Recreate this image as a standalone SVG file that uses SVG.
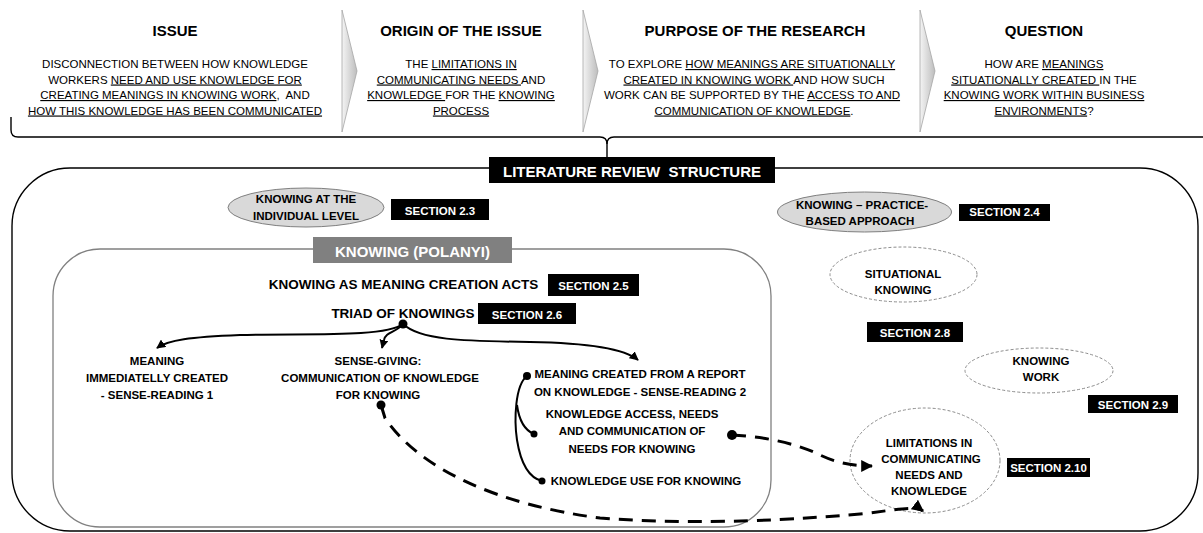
<svg xmlns="http://www.w3.org/2000/svg" width="1203" height="533" viewBox="0 0 1203 533">
  <style>
    text { font-family: "Liberation Sans", Arial, sans-serif; fill: #000; }
    .h { font-size: 15px; font-weight: bold; text-anchor: middle; }
    .b { font-size: 11.5px; text-anchor: middle; }
    .lbl { font-size: 11.5px; font-weight: bold; text-anchor: middle; }
    .big { font-size: 13.5px; font-weight: bold; text-anchor: middle; }
    .w { fill: #fff; }
    .u { text-decoration: underline; }
    .sec { fill: #000; }
    .chev { fill: url(#chevFill); stroke: #a6a6a6; stroke-width: 0.8; }
    .oval { fill: #d9d9d9; stroke: #7f7f7f; stroke-width: 1; }
    .doval { fill: none; stroke: #8c8c8c; stroke-width: 1; stroke-dasharray: 3 2; }
    .link { fill: none; stroke: #000; stroke-width: 2; }
    .dash { fill: none; stroke: #000; stroke-width: 3; stroke-dasharray: 14 9; }
    .dot { fill: #000; }
  </style>
  <defs>
    <linearGradient id="chevFill" x1="0" y1="0" x2="1" y2="0">
      <stop offset="0" stop-color="#f4f4f4"/>
      <stop offset="1" stop-color="#bdbdbd"/>
    </linearGradient>
    <marker id="arrS" viewBox="0 0 10 10" refX="9" refY="5" markerWidth="9" markerHeight="9" markerUnits="userSpaceOnUse" orient="auto">
      <path d="M0,0 L10,5 L0,10 z" fill="#000"/>
    </marker>
    <marker id="arrD" viewBox="0 0 10 10" refX="9" refY="5" markerWidth="12" markerHeight="12" markerUnits="userSpaceOnUse" orient="auto">
      <path d="M0,0 L10,5 L0,10 z" fill="#000"/>
    </marker>
  </defs>

  <rect width="1203" height="533" fill="#fff"/>

  <!-- header chevrons -->
  <g id="chevrons">
    <polygon class="chev" points="342,10 357,71 342,132"/>
    <polygon class="chev" points="583,10 598,71 583,132"/>
    <polygon class="chev" points="920,10 935,71 920,132"/>
  </g>

  <!-- header columns -->
  <g id="issue">
    <text class="h" x="175" y="36">ISSUE</text>
    <text class="b" x="175" y="68">DISCONNECTION BETWEEN HOW KNOWLEDGE</text>
    <text class="b" x="175" y="83.5">WORKERS <tspan class="u">NEED AND USE KNOWLEDGE FOR</tspan></text>
    <text class="b" x="175" y="99" xml:space="preserve"><tspan class="u">CREATING MEANINGS IN KNOWING WORK</tspan>,  AND</text>
    <text class="b" x="175" y="114.5"><tspan class="u">HOW THIS KNOWLEDGE HAS BEEN COMMUNICATED</tspan></text>
  </g>
  <g id="origin">
    <text class="h" x="461" y="36">ORIGIN OF THE ISSUE</text>
    <text class="b" x="461" y="68">THE <tspan class="u">LIMITATIONS IN</tspan></text>
    <text class="b" x="461" y="83.5"><tspan class="u">COMMUNICATING NEEDS </tspan>AND</text>
    <text class="b" x="461" y="99"><tspan class="u">KNOWLEDGE </tspan>FOR THE <tspan class="u">KNOWING</tspan></text>
    <text class="b" x="461" y="114.5"><tspan class="u">PROCESS</tspan></text>
  </g>
  <g id="purpose">
    <text class="h" x="755" y="36">PURPOSE OF THE RESEARCH</text>
    <text class="b" x="752" y="68">TO EXPLORE <tspan class="u">HOW MEANINGS ARE SITUATIONALLY</tspan></text>
    <text class="b" x="754" y="83.5"><tspan class="u">CREATED IN KNOWING WORK </tspan>AND HOW SUCH</text>
    <text class="b" x="752" y="99">WORK CAN BE SUPPORTED BY THE <tspan class="u">ACCESS TO AND</tspan></text>
    <text class="b" x="754" y="114.5"><tspan class="u">COMMUNICATION OF KNOWLEDGE</tspan>.</text>
  </g>
  <g id="question">
    <text class="h" x="1044" y="36">QUESTION</text>
    <text class="b" x="1044" y="68">HOW ARE <tspan class="u">MEANINGS</tspan></text>
    <text class="b" x="1044" y="83.5"><tspan class="u">SITUATIONALLY CREATED </tspan>IN THE</text>
    <text class="b" x="1044" y="99"><tspan class="u">KNOWING WORK WITHIN BUSINESS</tspan></text>
    <text class="b" x="1044" y="114.5"><tspan class="u">ENVIRONMENTS</tspan>?</text>
  </g>

  <!-- brace joining the header to the review structure -->
  <g id="brace" fill="none" stroke="#000" stroke-width="1.4">
    <path d="M11,117 L11,130 Q11,137 18,137 L600,137 Q607,137 607,144 L607,157"/>
    <path d="M1203,137 L614,137 Q607,137 607,144"/>
  </g>

  <!-- outer frame of the review structure -->
  <g id="review">
    <rect x="12" y="168" width="1186" height="363" rx="58" ry="58" fill="none" stroke="#000" stroke-width="1.4"/>
    <rect x="489" y="157" width="286" height="26" fill="#000"/>
    <text class="h w" x="632" y="177" xml:space="preserve">LITERATURE REVIEW  STRUCTURE</text>
  </g>

  <!-- Polanyi frame -->
  <g id="polanyi">
    <rect x="53" y="249" width="718" height="278" rx="47" ry="47" fill="none" stroke="#808080" stroke-width="1.3"/>
    <rect x="313" y="237" width="199" height="26" fill="#808080"/>
    <text class="h w" x="412.5" y="257">KNOWING (POLANYI)</text>
  </g>

  <g id="individual">
    <ellipse class="oval" cx="306" cy="207.5" rx="78" ry="19.5"/>
    <text class="lbl" x="306" y="203">KNOWING AT THE</text>
    <text class="lbl" x="306" y="220">INDIVIDUAL LEVEL</text>
  </g>
  <g id="sec23">
    <rect class="sec" x="391" y="199" width="98" height="21"/>
    <text class="lbl w" x="440" y="215">SECTION 2.3</text>
  </g>

  <g id="practice">
    <ellipse class="oval" cx="864.5" cy="212" rx="87" ry="20"/>
    <text class="lbl" x="862" y="209">KNOWING – PRACTICE-</text>
    <text class="lbl" x="860" y="225">BASED APPROACH</text>
  </g>
  <g id="sec24">
    <rect class="sec" x="959" y="204" width="91" height="17"/>
    <text class="lbl w" x="1004.5" y="216">SECTION 2.4</text>
  </g>

  <g id="meaningActs">
    <text class="big" x="403.5" y="289">KNOWING AS MEANING CREATION ACTS</text>
  </g>
  <g id="sec25">
    <rect class="sec" x="548" y="274" width="91" height="22"/>
    <text class="lbl w" x="593.5" y="289.5">SECTION 2.5</text>
  </g>

  <g id="triad">
    <text class="big" x="403" y="318">TRIAD OF KNOWINGS</text>
  </g>
  <g id="sec26">
    <rect class="sec" x="478" y="303" width="98" height="21"/>
    <text class="lbl w" x="527" y="318.5">SECTION 2.6</text>
  </g>

  <g id="senseReading1">
    <text class="lbl" x="157" y="365">MEANING</text>
    <text class="lbl" x="157" y="382">IMMEDIATELLY CREATED</text>
    <text class="lbl" x="157" y="399">- SENSE-READING 1</text>
  </g>
  <g id="senseGiving">
    <text class="lbl" x="378" y="365">SENSE-GIVING:</text>
    <text class="lbl" x="380" y="382">COMMUNICATION OF KNOWLEDGE</text>
    <text class="lbl" x="378" y="399">FOR KNOWING</text>
  </g>
  <g id="senseReading2">
    <text class="lbl" x="640" y="378">MEANING CREATED FROM A REPORT</text>
    <text class="lbl" x="640" y="395.5">ON KNOWLEDGE - SENSE-READING 2</text>
  </g>
  <g id="accessNeeds">
    <text class="lbl" x="632" y="418">KNOWLEDGE ACCESS, NEEDS</text>
    <text class="lbl" x="632" y="435">AND COMMUNICATION OF</text>
    <text class="lbl" x="632" y="453">NEEDS FOR KNOWING</text>
  </g>
  <g id="knowledgeUse">
    <text class="lbl" x="646" y="485">KNOWLEDGE USE FOR KNOWING</text>
  </g>

  <g id="situational">
    <ellipse class="doval" cx="903.5" cy="274.5" rx="73.5" ry="27.5"/>
    <text class="lbl" x="903" y="278">SITUATIONAL</text>
    <text class="lbl" x="903" y="294">KNOWING</text>
  </g>
  <g id="sec28">
    <rect class="sec" x="867" y="322" width="96" height="20"/>
    <text class="lbl w" x="915" y="336.5">SECTION 2.8</text>
  </g>

  <g id="knowingWork">
    <ellipse class="doval" cx="1039" cy="370.5" rx="74" ry="22.5"/>
    <text class="lbl" x="1041" y="365">KNOWING</text>
    <text class="lbl" x="1041" y="381">WORK</text>
  </g>
  <g id="sec29">
    <rect class="sec" x="1088" y="395" width="90" height="18"/>
    <text class="lbl w" x="1133" y="408.5">SECTION 2.9</text>
  </g>

  <g id="limitations">
    <ellipse class="doval" cx="925" cy="460.5" rx="75" ry="52.5"/>
    <text class="lbl" x="929" y="447">LIMITATIONS IN</text>
    <text class="lbl" x="931" y="463">COMMUNICATING</text>
    <text class="lbl" x="929" y="479">NEEDS AND</text>
    <text class="lbl" x="929" y="495">KNOWLEDGE</text>
  </g>
  <g id="sec210">
    <rect class="sec" x="1007" y="458" width="83" height="19"/>
    <text class="lbl w" x="1048.5" y="472">SECTION 2.10</text>
  </g>

  <!-- connectors -->
  <g id="connectors">
    <path class="link" d="M403,324 C385,338 300,333 240,335 C190,337 168,340 157,348" marker-end="url(#arrS)"/>
    <path class="link" d="M403,324 C396,333 386,331 384,340 L382,348" marker-end="url(#arrS)"/>
    <path class="link" d="M403,324 C420,340 460,341 530,342 C590,343 625,349 638,360" marker-end="url(#arrS)"/>
    <circle class="dot" cx="403" cy="324" r="4.5"/>

    <path class="link" stroke-width="3" d="M527,376 C515,385 514,420 517,440 C521,465 530,478 542,481"/>
    <path class="link" stroke-width="2.5" d="M517,405 C519,420 524,430 534,434"/>
    <circle class="dot" cx="527" cy="376" r="4"/>
    <circle class="dot" cx="534" cy="434" r="3.5"/>
    <circle class="dot" cx="542" cy="481" r="3.5"/>

    <path class="dash" d="M732,435 C770,437 800,445 820,455 C835,462 850,466 872,466" marker-end="url(#arrD)"/>
    <circle class="dot" cx="732" cy="435" r="5"/>

    <path class="dash" d="M381,405 L385,418 C420,470 500,505 600,518 C700,526 800,519 860,514 C890,511 915,505 923,511" marker-end="url(#arrD)"/>
    <circle class="dot" cx="381" cy="405" r="4.5"/>
  </g>
</svg>
